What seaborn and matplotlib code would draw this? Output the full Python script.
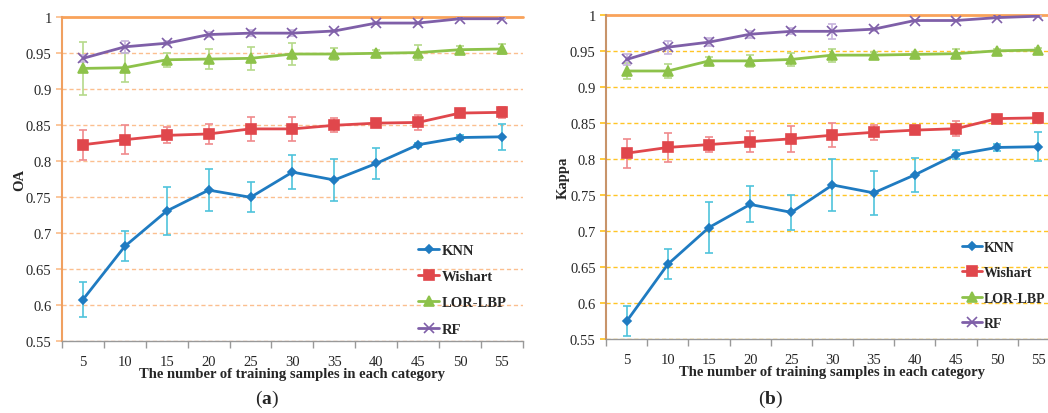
import numpy as np
import pandas as pd
import matplotlib
matplotlib.use('Agg')
import matplotlib.pyplot as plt
from matplotlib.ticker import FixedLocator, FuncFormatter
import seaborn as sns

# training samples per category (x categories)
samples = [5, 10, 15, 20, 25, 30, 35, 40, 45, 50, 55]
methods = ['KNN', 'Wishart', 'LOR-LBP', 'RF']

# (a) overall accuracy
oa_knn = [0.608, 0.682, 0.731, 0.760, 0.750, 0.785, 0.774, 0.797, 0.823, 0.833, 0.834]
oa_knn_err = [0.024, 0.021, 0.033, 0.029, 0.021, 0.024, 0.029, 0.022, 0.003, 0.004, 0.018]
oa_wishart = [0.823, 0.830, 0.836, 0.838, 0.845, 0.845, 0.850, 0.853, 0.854, 0.867, 0.868]
oa_wishart_err = [0.021, 0.020, 0.011, 0.014, 0.017, 0.017, 0.010, 0.005, 0.010, 0.004, 0.008]
oa_lorlbp = [0.929, 0.930, 0.941, 0.942, 0.943, 0.949, 0.949, 0.950, 0.951, 0.955, 0.956]
oa_lorlbp_err = [0.037, 0.020, 0.010, 0.014, 0.016, 0.015, 0.009, 0.005, 0.010, 0.005, 0.007]
oa_rf = [0.943, 0.959, 0.964, 0.976, 0.978, 0.978, 0.981, 0.992, 0.992, 0.998, 0.998]
oa_rf_err = [0.005, 0.008, 0.003, 0.004, 0.004, 0.004, 0.002, 0.001, 0.001, 0.001, 0.001]

# (b) kappa
kp_knn = [0.575, 0.654, 0.705, 0.737, 0.726, 0.764, 0.753, 0.778, 0.806, 0.816, 0.817]
kp_knn_err = [0.021, 0.021, 0.035, 0.025, 0.024, 0.036, 0.031, 0.024, 0.006, 0.005, 0.020]
kp_wishart = [0.808, 0.816, 0.820, 0.824, 0.828, 0.833, 0.837, 0.840, 0.842, 0.856, 0.857]
kp_wishart_err = [0.020, 0.020, 0.011, 0.015, 0.018, 0.017, 0.010, 0.004, 0.010, 0.004, 0.007]
kp_lorlbp = [0.922, 0.922, 0.936, 0.936, 0.938, 0.944, 0.944, 0.945, 0.946, 0.950, 0.951]
kp_lorlbp_err = [0.011, 0.010, 0.005, 0.008, 0.009, 0.009, 0.005, 0.003, 0.006, 0.002, 0.003]
kp_rf = [0.938, 0.955, 0.962, 0.973, 0.977, 0.977, 0.980, 0.992, 0.992, 0.996, 0.998]
kp_rf_err = [0.007, 0.009, 0.006, 0.005, 0.004, 0.010, 0.002, 0.001, 0.001, 0.001, 0.001]

line_colors = {'KNN': '#1f7bc1', 'Wishart': '#e0474c', 'LOR-LBP': '#8dc24a', 'RF': '#7f5fa8'}
err_colors = {'KNN': '#4fc3db', 'Wishart': '#f08a8c', 'LOR-LBP': '#b5d98a', 'RF': '#c6b3dd'}
markers = {'KNN': 'D', 'Wishart': 's', 'LOR-LBP': '^', 'RF': 'x'}
msizes = {'KNN': 4, 'Wishart': 7.5, 'LOR-LBP': 7, 'RF': 7}

sns.set_theme(style='white')
plt.rcParams['font.family'] = ['Liberation Serif', 'DejaVu Serif']
plt.rcParams['mathtext.fontset'] = 'custom'
plt.rcParams['mathtext.bf'] = 'Liberation Serif:bold'

fig = plt.figure(figsize=(10.48, 4.14), dpi=100)
ax_a = fig.add_axes([0.0592, 0.1732, 0.4397, 0.7826])
ax_b = fig.add_axes([0.5783, 0.178, 0.4321, 0.784])


def draw_panel(ax, series, errors, ylabel, grid_color, spine_color, leg_x, leg_size):
    x = np.arange(len(samples))
    for m in methods:
        df = pd.DataFrame({'x': x, 'y': series[m]})
        ax.errorbar(x, series[m], yerr=errors[m], fmt='none', ecolor=err_colors[m],
                    elinewidth=1.2, capsize=3, capthick=1.2, zorder=2)
        sns.lineplot(data=df, x='x', y='y', ax=ax, color=line_colors[m], marker=markers[m],
                     markersize=msizes[m], markeredgecolor=line_colors[m],
                     markeredgewidth=1.2, linewidth=2, label=m, zorder=3)

    ax.set_xlim(-0.5, 10.5)
    ax.set_ylim(0.55, 1.0)
    yt = np.arange(0.55, 1.001, 0.05)
    ax.set_yticks(yt)
    ax.yaxis.set_major_formatter(FuncFormatter(lambda v, p: '%g' % round(v, 2)))
    for v in yt[:-1]:
        ax.axhline(v, color=grid_color, linestyle=(0, (3, 2)), linewidth=1, zorder=1)
    ax.axhline(1.0, color='#f9a25a', linewidth=2, zorder=1, clip_on=False)

    ax.set_xticks(x)
    ax.set_xticklabels([str(s) for s in samples])
    ax.xaxis.set_minor_locator(FixedLocator(np.arange(-0.5, 10.6, 1)))
    ax.tick_params(axis='x', which='major', length=0, pad=10, labelsize=10.5)
    ax.tick_params(axis='x', which='minor', length=5, color='#999999', width=1, bottom=True)
    ax.tick_params(axis='y', length=4, color=grid_color, labelsize=10.5, left=True)

    for s in ['top', 'right']:
        ax.spines[s].set_visible(False)
    ax.spines['left'].set_color(spine_color)
    ax.spines['left'].set_linewidth(1.5)
    ax.spines['bottom'].set_color('#999999')
    ax.spines['bottom'].set_linewidth(1)

    ax.set_xlabel('The number of training samples in each category',
                  fontweight='bold', fontsize=10.5, labelpad=-1)
    ax.set_ylabel(ylabel, fontweight='bold', fontsize=10.5, labelpad=0)

    leg = ax.legend(loc='upper left', bbox_to_anchor=(leg_x, 0.342), frameon=False,
                    prop={'weight': 'bold', 'size': leg_size}, handlelength=1.45,
                    handletextpad=0.15, labelspacing=0.9)
    return leg


draw_panel(ax_a,
           {'KNN': oa_knn, 'Wishart': oa_wishart, 'LOR-LBP': oa_lorlbp, 'RF': oa_rf},
           {'KNN': oa_knn_err, 'Wishart': oa_wishart_err, 'LOR-LBP': oa_lorlbp_err, 'RF': oa_rf_err},
           'OA', '#fbbf8f', '#f0a060', 0.744, 10.5)
draw_panel(ax_b,
           {'KNN': kp_knn, 'Wishart': kp_wishart, 'LOR-LBP': kp_lorlbp, 'RF': kp_rf},
           {'KNN': kp_knn_err, 'Wishart': kp_wishart_err, 'LOR-LBP': kp_lorlbp_err, 'RF': kp_rf_err},
           'Kappa', '#ffc526', '#c8946a', 0.758, 10)

fig.text(0.255, 0.035, r'($\mathbf{a}$)', ha='center', va='center', fontsize=14)
fig.text(0.735, 0.035, r'($\mathbf{b}$)', ha='center', va='center', fontsize=14)

fig.savefig('out.png', dpi=100)
